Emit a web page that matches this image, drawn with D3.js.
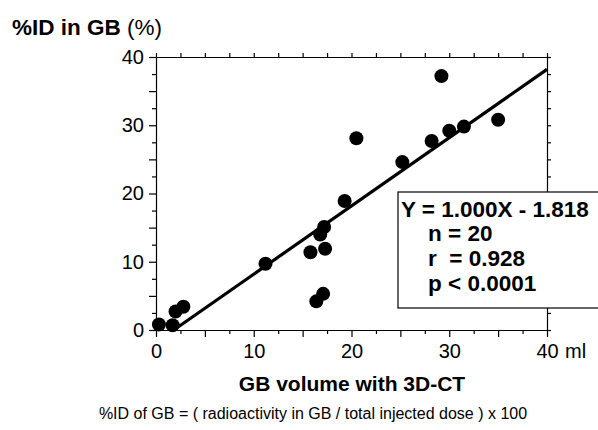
<!DOCTYPE html>
<html>
<head>
<meta charset="utf-8">
<script src="https://cdn.jsdelivr.net/npm/d3@7"></script>
<style>
  body { margin: 0; background: #fff; }
  svg { font-family: "Liberation Sans", Arial, Helvetica, sans-serif; }
  .axis path, .axis line { stroke: #000; stroke-width: 1.2; }
  .axis text { font-size: 20px; fill: #000; }
</style>
</head>
<body>
<div id="chart"></div>
<script>
// values
var gbVolume   = [0.3, 1.7, 2.0, 2.8, 11.2, 15.8, 16.8, 17.2, 17.3, 16.4, 17.1, 19.3, 20.5, 25.2, 28.2, 30.0, 31.5, 29.2, 35.0];
var percentID  = [0.8, 0.7, 2.7, 3.4, 9.7, 11.4, 14.0, 15.1, 11.9, 4.2, 5.3, 18.9, 28.1, 24.6, 27.7, 29.2, 29.8, 37.2, 30.8];
var tickValues = [0, 2.5, 5, 7.5, 10, 12.5, 15, 17.5, 20, 22.5, 25, 27.5, 30, 32.5, 35, 37.5, 40];
var fitSlope = 1.000, fitIntercept = -1.818;
var statLines = ['Y = 1.000X - 1.818', 'n = 20', 'r  = 0.928', 'p < 0.0001'];

var margin = { top: 57, right: 51, bottom: 100, left: 156 };
var width = 598 - margin.left - margin.right,
    height = 430 - margin.top - margin.bottom;

var svg = d3.select('#chart').append('svg')
    .attr('width', 598)
    .attr('height', 430);

var g = svg.append('g')
    .attr('transform', 'translate(' + margin.left + ',' + margin.top + ')');

var x = d3.scaleLinear().domain([0, 40]).range([0, width]);
var y = d3.scaleLinear().domain([0, 40]).range([height, 0]);

function label(d) { return d % 10 === 0 ? d : ''; }

// frame: four axes, ticks pointing outward
var bottom = g.append('g').attr('class', 'axis')
    .attr('transform', 'translate(0,' + height + ')')
    .call(d3.axisBottom(x).tickValues(tickValues).tickSize(5).tickSizeOuter(0).tickPadding(6).tickFormat(label));
var left = g.append('g').attr('class', 'axis')
    .call(d3.axisLeft(y).tickValues(tickValues).tickSize(5).tickSizeOuter(0).tickPadding(7).tickFormat(label));
g.append('g').attr('class', 'axis')
    .call(d3.axisTop(x).tickValues(tickValues).tickSize(4).tickSizeOuter(0).tickFormat(''));
g.append('g').attr('class', 'axis')
    .attr('transform', 'translate(' + width + ',0)')
    .call(d3.axisRight(y).tickValues(tickValues).tickSize(4).tickSizeOuter(0).tickFormat(''));

// longer ticks on multiples of 5
bottom.selectAll('.tick line').attr('y2', function (d) { return d % 5 === 0 ? 7 : 4; });
left.selectAll('.tick line').attr('x2', function (d) { return d % 5 === 0 ? -7 : -4; });
bottom.selectAll('.tick text').attr('dy', '0.85em');

// unit after the last x tick
g.append('text')
    .attr('x', x(40) + 18)
    .attr('y', height + 28)
    .style('font-size', '20px')
    .text('ml');

// regression line
var x0 = -fitIntercept / fitSlope;
g.append('line')
    .attr('x1', x(x0)).attr('y1', y(0))
    .attr('x2', x(40)).attr('y2', y(fitSlope * 40 + fitIntercept))
    .attr('stroke', '#000')
    .attr('stroke-width', 3.2);

// points
g.selectAll('circle')
    .data(gbVolume)
  .enter().append('circle')
    .attr('cx', function (d) { return x(d); })
    .attr('cy', function (d, i) { return y(percentID[i]); })
    .attr('r', 7)
    .attr('fill', '#000');

// stats box (runs off the right edge, as in the figure)
var box = svg.append('g').attr('transform', 'translate(398,192)');
box.append('rect')
    .attr('width', 210).attr('height', 116)
    .attr('fill', '#fff').attr('stroke', '#000').attr('stroke-width', 1.2);
box.selectAll('text')
    .data(statLines)
  .enter().append('text')
    .attr('x', function (d, i) { return i === 0 ? 3 : 30; })
    .attr('y', function (d, i) { return 24.5 + i * 24.8; })
    .style('font-size', '22.5px')
    .style('font-weight', 'bold')
    .style('white-space', 'pre')
    .text(function (d) { return d; });

// titles
var yTitle = svg.append('text')
    .attr('x', 12).attr('y', 35)
    .style('font-size', '22.5px');
yTitle.append('tspan').style('font-weight', 'bold').text('%ID in GB ');
yTitle.append('tspan').text('(%)');

svg.append('text')
    .attr('x', 352).attr('y', 391)
    .attr('text-anchor', 'middle')
    .style('font-size', '21px')
    .style('font-weight', 'bold')
    .text('GB volume with 3D-CT');

svg.append('text')
    .attr('x', 313).attr('y', 419)
    .attr('text-anchor', 'middle')
    .style('font-size', '16px')
    .text('%ID of GB = ( radioactivity in GB / total injected dose ) x 100');
</script>
</body>
</html>
